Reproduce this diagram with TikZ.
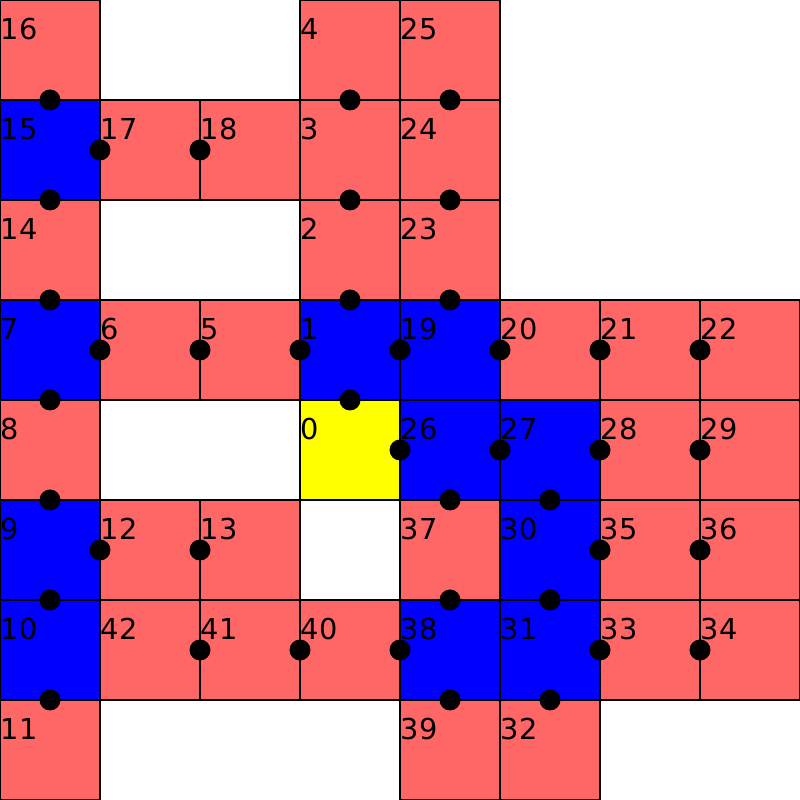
\documentclass[tikz,border=0pt]{standalone}
\usepackage{fontspec}
\setmainfont{DejaVu Sans}
\definecolor{roomred}{HTML}{FF6666}
\definecolor{roomblue}{HTML}{0000FF}
\definecolor{roomyellow}{HTML}{FFFF00}
\tikzset{
  cellbox/.style={draw=black, line width=0.35pt, minimum size=1cm, inner sep=0pt, outer sep=0pt},
  lbl/.style={anchor=base west, inner sep=0pt, font=\fontsize{8.2}{10}\selectfont},
  door/.style={circle, fill=black, minimum size=0.21cm, inner sep=0pt}
}
\newcommand\cellat[4]{%
  \node[cellbox, fill=#3] (c#4) at (#1+0.5, 7.5-#2) {};
  \node[lbl] (t#4) at (#1, 7.6-#2) {#4};}
\begin{document}
\begin{tikzpicture}
\useasboundingbox (0,0) rectangle (8,8);
% row 0
\cellat{0}{0}{roomred}{16}
\cellat{3}{0}{roomred}{4}
\cellat{4}{0}{roomred}{25}
% row 1
\cellat{0}{1}{roomblue}{15}
\cellat{1}{1}{roomred}{17}
\cellat{2}{1}{roomred}{18}
\cellat{3}{1}{roomred}{3}
\cellat{4}{1}{roomred}{24}
% row 2
\cellat{0}{2}{roomred}{14}
\cellat{3}{2}{roomred}{2}
\cellat{4}{2}{roomred}{23}
% row 3
\cellat{0}{3}{roomblue}{7}
\cellat{1}{3}{roomred}{6}
\cellat{2}{3}{roomred}{5}
\cellat{3}{3}{roomblue}{1}
\cellat{4}{3}{roomblue}{19}
\cellat{5}{3}{roomred}{20}
\cellat{6}{3}{roomred}{21}
\cellat{7}{3}{roomred}{22}
% row 4
\cellat{0}{4}{roomred}{8}
\cellat{3}{4}{roomyellow}{0}
\cellat{4}{4}{roomblue}{26}
\cellat{5}{4}{roomblue}{27}
\cellat{6}{4}{roomred}{28}
\cellat{7}{4}{roomred}{29}
% row 5
\cellat{0}{5}{roomblue}{9}
\cellat{1}{5}{roomred}{12}
\cellat{2}{5}{roomred}{13}
\cellat{4}{5}{roomred}{37}
\cellat{5}{5}{roomblue}{30}
\cellat{6}{5}{roomred}{35}
\cellat{7}{5}{roomred}{36}
% row 6
\cellat{0}{6}{roomblue}{10}
\cellat{1}{6}{roomred}{42}
\cellat{2}{6}{roomred}{41}
\cellat{3}{6}{roomred}{40}
\cellat{4}{6}{roomblue}{38}
\cellat{5}{6}{roomblue}{31}
\cellat{6}{6}{roomred}{33}
\cellat{7}{6}{roomred}{34}
% row 7
\cellat{0}{7}{roomred}{11}
\cellat{4}{7}{roomred}{39}
\cellat{5}{7}{roomred}{32}
% doors
\foreach \x/\y [count=\i] in {
  0.5/7, 3.5/7, 4.5/7,
  1/6.5, 2/6.5,
  0.5/6, 3.5/6, 4.5/6,
  0.5/5, 3.5/5, 4.5/5,
  1/4.5, 2/4.5, 3/4.5, 4/4.5, 5/4.5, 6/4.5, 7/4.5,
  0.5/4, 3.5/4,
  4/3.5, 5/3.5, 6/3.5, 7/3.5,
  0.5/3, 4.5/3, 5.5/3,
  1/2.5, 2/2.5, 6/2.5, 7/2.5,
  0.5/2, 4.5/2, 5.5/2,
  2/1.5, 3/1.5, 4/1.5, 6/1.5, 7/1.5,
  0.5/1, 4.5/1, 5.5/1}
  \node[door] (d\i) at (\x,\y) {};
\end{tikzpicture}
\end{document}
